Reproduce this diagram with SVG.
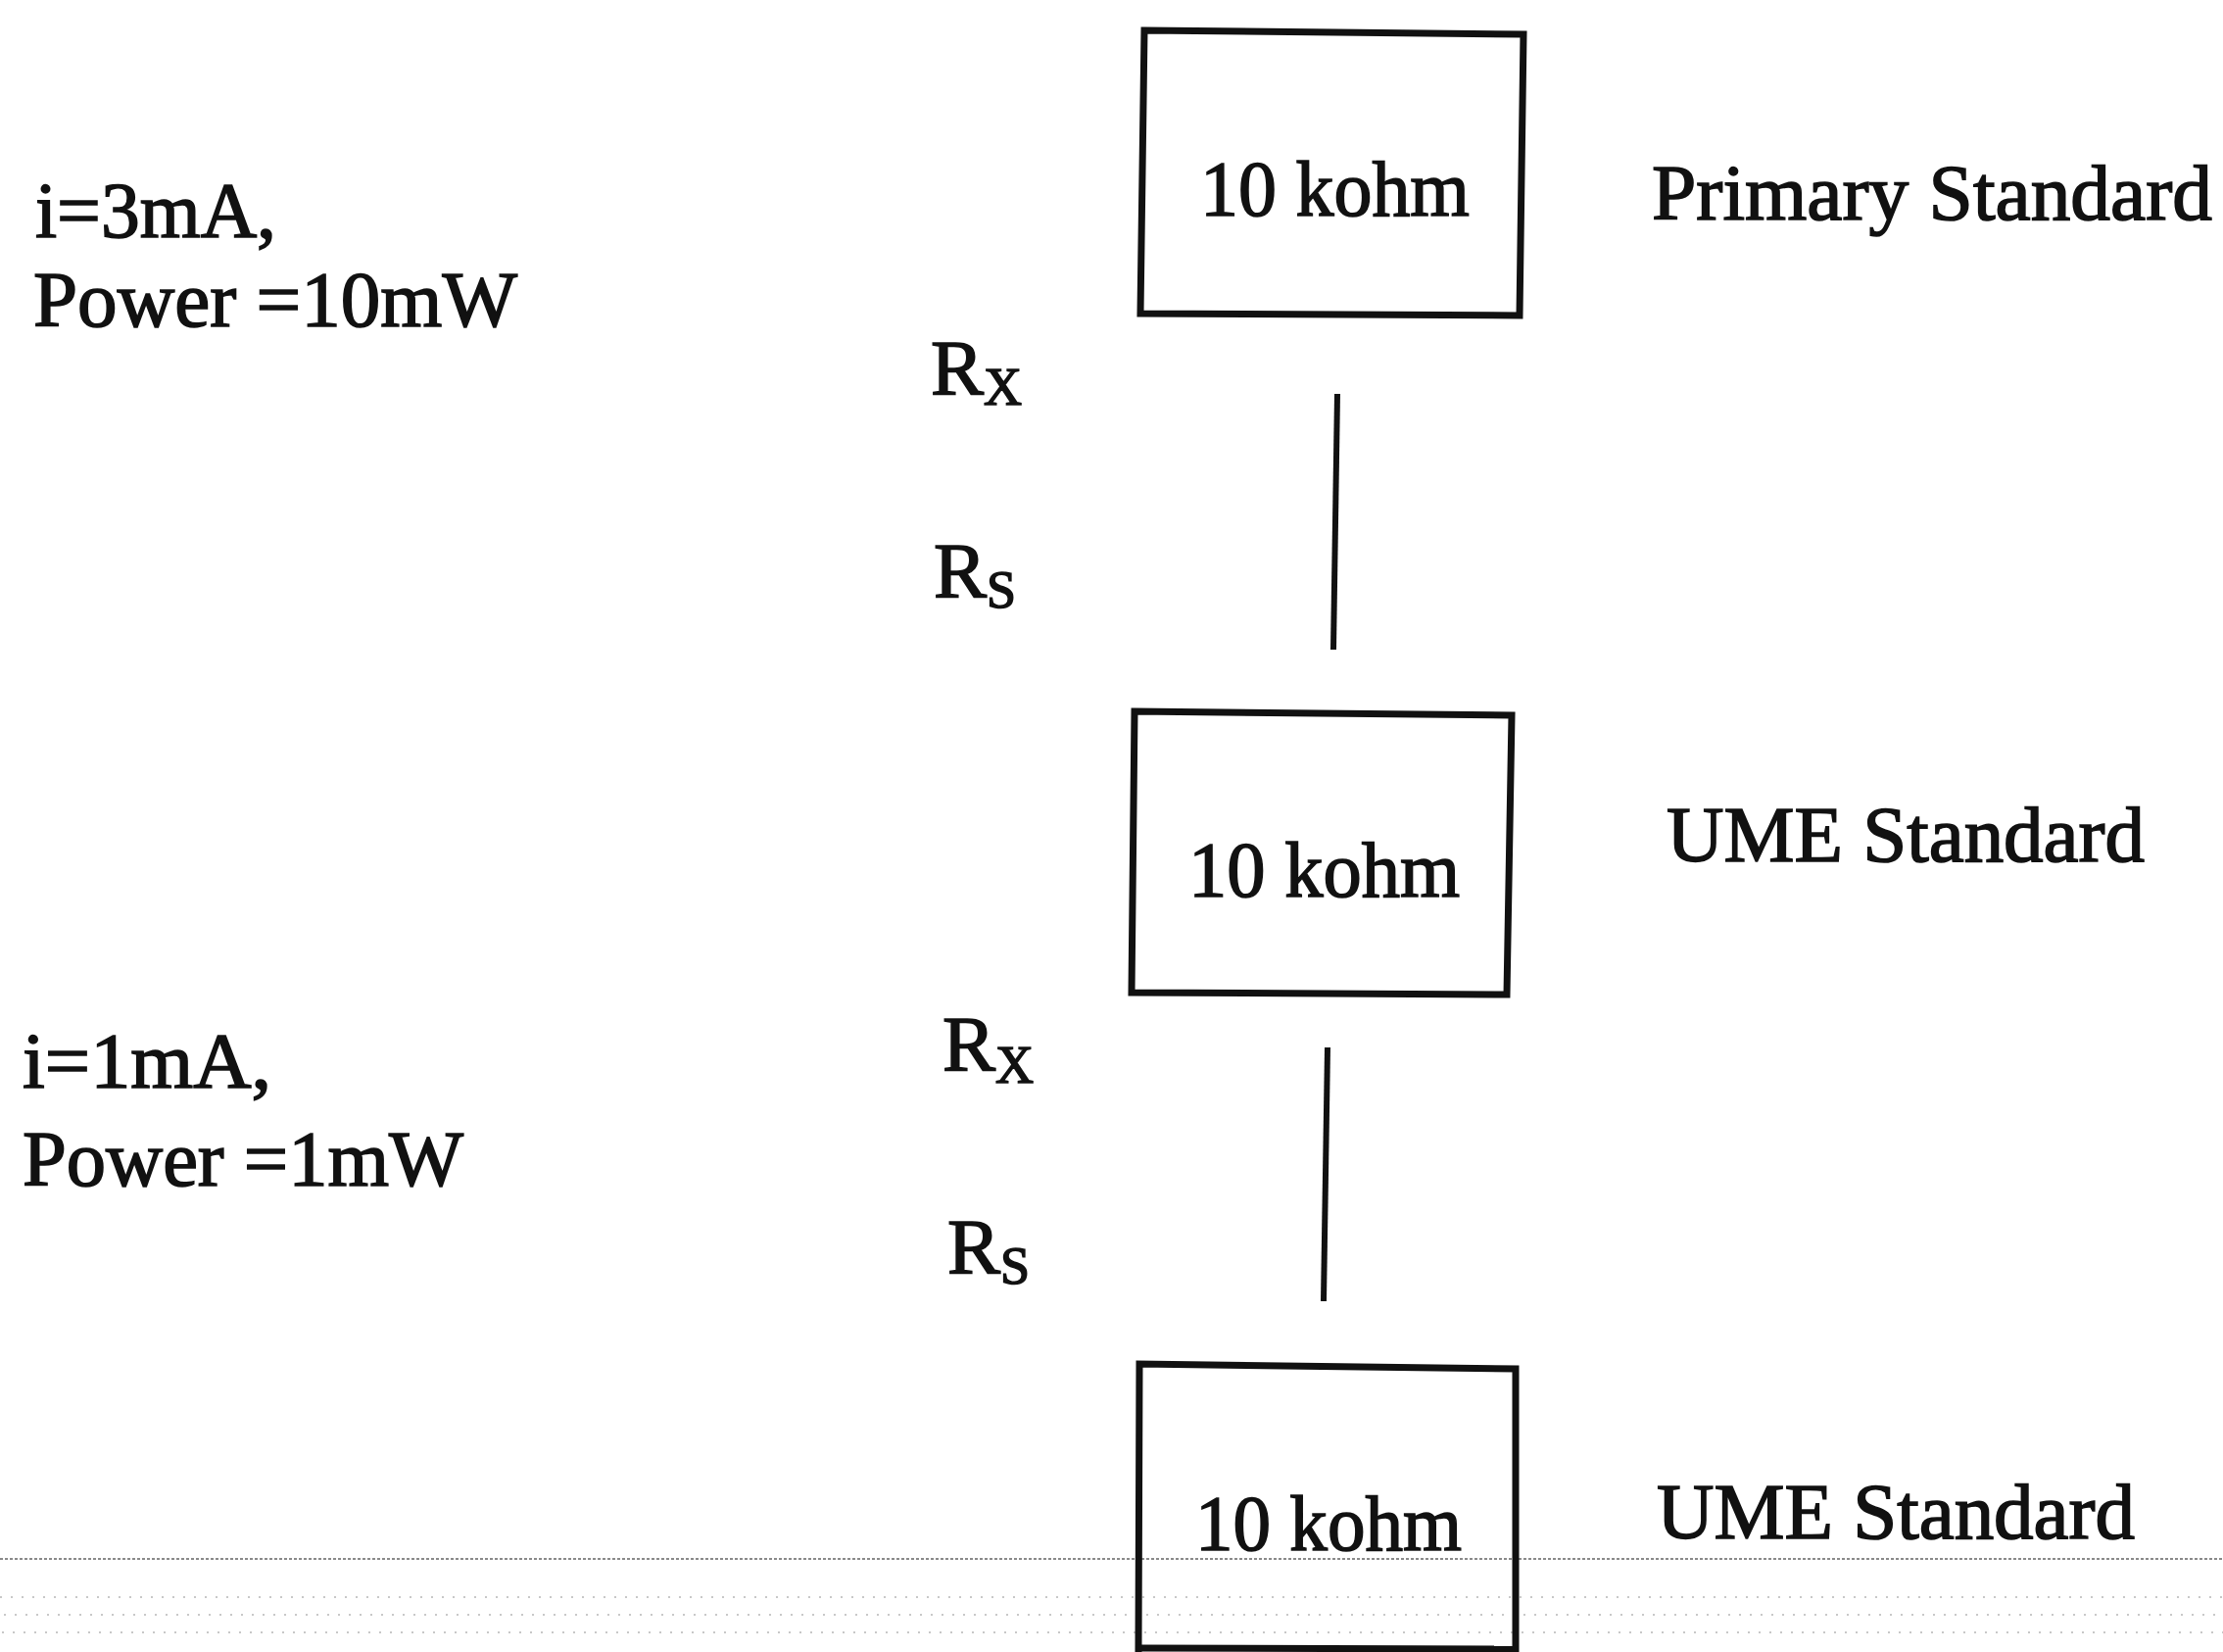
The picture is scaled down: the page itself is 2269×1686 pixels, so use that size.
<svg xmlns="http://www.w3.org/2000/svg" width="2269" height="1686" viewBox="0 0 2269 1686">
<style>
  text { font-family: "Liberation Serif", "Times New Roman", serif; fill: #111; stroke: #111; stroke-width: 1.6; }
  .big { font-size: 81px; }
  .sub { font-size: 54px; }
  .box { fill: none; stroke: #111; stroke-width: 7; stroke-linejoin: miter; }
  .wire { stroke: #111; stroke-width: 6; fill: none; }
  .scan { stroke: #8a8a8a; stroke-width: 2; stroke-dasharray: 3 2; fill: none; }
  .noise { stroke: #c8c8c8; stroke-width: 2; stroke-dasharray: 2 9; fill: none; }
</style>
<rect width="2269" height="1686" fill="#ffffff"/>

<g id="scan-artifacts">
  <line class="scan" x1="0" y1="1591" x2="2269" y2="1591"/>
  <line class="noise" x1="0" y1="1630" x2="2269" y2="1630"/>
  <line class="noise" x1="4" y1="1648" x2="2269" y2="1648"/>
  <line class="noise" x1="2" y1="1666" x2="2269" y2="1666"/>
</g>

<g id="connectors">
  <line class="wire" x1="1365" y1="402" x2="1361" y2="663"/>
  <line class="wire" x1="1355" y1="1069" x2="1351" y2="1328"/>
</g>

<g id="node-primary">
  <polygon class="box" points="1168,31 1555,35 1551,322 1164,320"/>
  <text class="big" x="1225" y="220" textLength="275" lengthAdjust="spacingAndGlyphs">10 kohm</text>
</g>
<g id="node-ume1">
  <polygon class="box" points="1158,726 1543,730 1538,1015 1155,1013"/>
  <text class="big" x="1213" y="915" textLength="277" lengthAdjust="spacingAndGlyphs">10 kohm</text>
</g>
<g id="node-ume2">
  <polyline class="box" points="1162,1686 1163,1392 1547,1397 1547,1686"/>
  <line class="box" x1="1162" y1="1682" x2="1547" y2="1683"/>
  <text class="big" x="1220" y="1582" textLength="272" lengthAdjust="spacingAndGlyphs">10 kohm</text>
</g>

<g id="labels-right">
  <text class="big" x="1686" y="224" textLength="572" lengthAdjust="spacingAndGlyphs">Primary Standard</text>
  <text class="big" x="1701" y="879" textLength="488" lengthAdjust="spacingAndGlyphs">UME Standard</text>
  <text class="big" x="1691" y="1570" textLength="488" lengthAdjust="spacingAndGlyphs">UME Standard</text>
</g>

<g id="labels-resistors">
  <text class="big" x="950" y="403">R<tspan class="sub" dy="10">X</tspan></text>
  <text class="big" x="953" y="610">R<tspan class="sub" dy="10">S</tspan></text>
  <text class="big" x="962" y="1093">R<tspan class="sub" dy="12">X</tspan></text>
  <text class="big" x="967" y="1300">R<tspan class="sub" dy="10">S</tspan></text>
</g>

<g id="labels-left">
  <text class="big" x="36" y="242" textLength="246" lengthAdjust="spacingAndGlyphs">i=3mA,</text>
  <text class="big" x="34" y="333" textLength="494" lengthAdjust="spacingAndGlyphs">Power =10mW</text>
  <text class="big" x="23" y="1110" textLength="254" lengthAdjust="spacingAndGlyphs">i=1mA,</text>
  <text class="big" x="23" y="1210" textLength="450" lengthAdjust="spacingAndGlyphs">Power =1mW</text>
</g>
</svg>
